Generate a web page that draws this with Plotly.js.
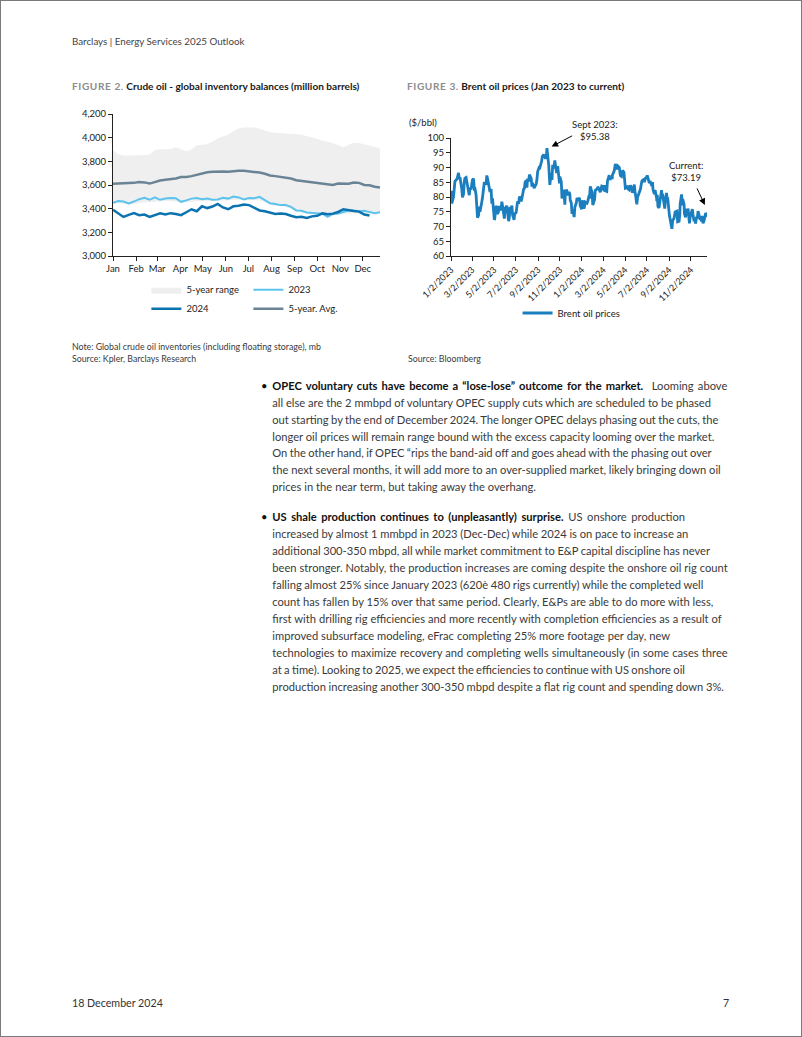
<!DOCTYPE html>
<html><head><meta charset="utf-8">
<script src="https://cdn.plot.ly/plotly-3.0.1.min.js"></script>
<style>
html,body{margin:0;padding:0;background:#fff;}
#page{position:relative;width:802px;height:1037px;overflow:hidden;font-family:Lato,sans-serif;color:#3a3a3a;background:#fff;}
#frame{position:absolute;left:0;top:0;width:802px;height:1037px;box-sizing:border-box;border:1px solid #7a7a7a;pointer-events:none;}
.t{position:absolute;white-space:nowrap;line-height:18px;}
.body b{color:#111;font-weight:700;}
.fig{font-weight:700;color:#1a1a1a;}
.fig span{color:#8c8c8c;letter-spacing:0.6px;}
.chart{position:absolute;}
</style></head>
<body>
<div id="page">
  <div class="t" id="hdr" style="left:72px;top:32px;color:#444;">Barclays | Energy Services 2025 Outlook</div>

  <div class="t fig" id="t1" style="left:72px;top:77px;"><span>FIGURE 2.</span> Crude oil - global inventory balances (million barrels)</div>
  <div class="t fig" id="t2" style="left:407px;top:77px;"><span>FIGURE 3.</span> Brent oil prices (Jan 2023 to current)</div>

  <div id="chart1" class="chart" style="left:60px;top:100px;width:340px;height:235px;"></div>
  <div id="chart2" class="chart" style="left:395px;top:100px;width:340px;height:240px;"></div>

  <div class="t note" id="n1" style="left:72px;top:338px;">Note: Global crude oil inventories (including floating storage), mb</div>
  <div class="t note" id="n2" style="left:72px;top:350px;">Source: Kpler, Barclays Research</div>
  <div class="t note" id="n3" style="left:408px;top:350px;">Source: Bloomberg</div>

  <div class="body" id="bodytext"></div>

  <div class="t" id="ftr" style="left:72px;top:994px;color:#333;">18 December 2024</div>
  <div class="t" id="pg" style="left:723px;top:994px;color:#333;">7</div>
  <div id="frame"></div>
</div>
<script>
// ---------------- Figure 2 data (weekly, million barrels) ----------------
const monthLabels = ['Jan','Feb','Mar','Apr','May','Jun','Jul','Aug','Sep','Oct','Nov','Dec'];
const monthStartDay = [0,31,59,90,120,151,181,212,243,273,304,334];

const range5yUpper = [3895,3860,3850,3850,3852,3855,3852,3858,3895,3902,3905,3905,3920,3900,3885,3900,3935,3940,3945,3965,3995,4010,4025,4055,4080,4085,4088,4085,4075,4060,4045,4042,4040,4035,4030,4028,4025,4015,4000,3990,3975,3968,3955,3935,3920,3940,3958,3955,3945,3935,3925,3910];
const range5yLower = [3440,3445,3440,3435,3440,3450,3455,3455,3460,3460,3465,3465,3460,3450,3455,3460,3465,3465,3465,3465,3465,3470,3470,3475,3475,3470,3470,3470,3470,3455,3435,3425,3420,3415,3400,3380,3370,3360,3355,3350,3345,3325,3340,3350,3355,3360,3360,3360,3360,3355,3355,3360];
const inv2023 = [3450,3465,3460,3445,3460,3480,3492,3475,3495,3475,3485,3490,3488,3458,3470,3485,3490,3480,3485,3475,3478,3492,3485,3503,3495,3478,3490,3488,3500,3470,3445,3440,3430,3430,3415,3385,3382,3368,3365,3362,3358,3330,3355,3360,3375,3385,3385,3378,3382,3372,3362,3370];
const inv2024 = [3390,3360,3330,3348,3362,3345,3350,3330,3342,3360,3350,3362,3355,3345,3370,3395,3378,3420,3405,3418,3440,3410,3395,3420,3425,3435,3430,3410,3385,3378,3365,3355,3360,3355,3340,3328,3332,3322,3335,3340,3360,3352,3358,3372,3395,3385,3380,3375,3350,3342];
const inv5yAvg = [3610,3612,3615,3612,3618,3625,3622,3612,3628,3638,3645,3650,3655,3668,3668,3675,3685,3700,3708,3712,3715,3715,3712,3718,3720,3720,3715,3712,3705,3695,3680,3675,3670,3665,3655,3640,3635,3630,3620,3615,3612,3605,3600,3612,3608,3610,3620,3618,3600,3598,3585,3578];
const weekDay = n => Array.from({length:n}, (_, i) => i * 7);

// ---------------- Figure 3 data (Brent, $/bbl) ----------------
const brentDates2023 = ['01-03','01-04','01-06','01-09','01-11','01-13','01-17','01-19','01-23','01-25','01-27','01-30','02-01','02-03','02-06','02-08','02-10','02-13','02-15','02-17','02-22','02-24','02-27','03-01','03-03','03-06','03-08','03-10','03-13','03-15','03-17','03-20','03-22','03-24','03-27','03-29','03-31','04-03','04-05','04-10','04-12','04-14','04-17','04-19','04-21','04-24','04-26','04-28','05-01','05-03','05-04','05-08','05-10','05-12','05-15','05-17','05-19','05-22','05-24','05-26','05-31','06-02','06-05','06-07','06-09','06-12','06-14','06-16','06-19','06-21','06-23','06-27','06-29','07-03','07-05','07-07','07-10','07-12','07-14','07-17','07-19','07-21','07-24','07-26','07-28','07-31','08-02','08-04','08-07','08-09','08-11','08-14','08-16','08-18','08-22','08-24','08-28','08-30','09-01','09-05','09-07','09-12','09-14','09-18','09-20','09-22','09-25','09-27','09-28','10-02','10-04','10-05','10-09','10-11','10-13','10-16','10-19','10-23','10-24','10-27','10-30','11-01','11-02','11-06','11-08','11-10','11-13','11-16','11-17','11-21','11-24','11-28','11-30','12-01','12-04','12-06','12-08','12-12','12-14','12-18','12-20','12-22','12-27','12-29'];
const brentPrices2023 = [82.1,77.8,78.6,80.0,82.7,85.3,85.9,86.2,88.2,86.1,86.7,84.9,82.8,79.9,81.0,85.1,86.4,86.6,85.4,83.0,80.6,83.2,82.5,84.3,85.8,86.2,82.7,82.8,80.8,73.7,73.0,73.8,76.7,75.0,78.1,78.3,79.8,84.9,85.0,84.2,87.3,86.3,84.8,83.1,81.7,82.7,77.7,79.5,75.3,72.3,72.5,77.0,76.4,74.2,75.2,77.0,75.6,76.0,78.4,77.0,72.7,76.1,76.7,77.0,74.8,71.8,73.2,76.6,76.1,77.1,73.9,72.3,74.3,74.7,76.7,78.5,77.7,80.1,79.9,78.5,79.5,81.1,82.7,82.9,85.0,85.6,83.2,86.2,85.3,87.6,86.8,86.2,83.5,84.8,83.0,83.4,84.4,85.9,88.6,90.0,89.9,92.1,93.7,94.4,93.5,93.3,93.3,96.6,95.4,90.7,85.8,84.1,88.2,85.8,90.9,89.7,92.4,89.8,88.1,90.5,87.5,84.6,86.9,85.2,79.5,81.4,82.5,77.4,80.6,82.5,80.6,81.7,80.9,78.9,78.0,74.3,75.8,73.2,76.6,78.0,79.7,79.1,79.7,77.0];
const brentDates2024 = ['01-02','01-03','01-05','01-08','01-10','01-12','01-17','01-19','01-22','01-24','01-26','01-29','01-31','02-02','02-05','02-07','02-09','02-13','02-15','02-16','02-20','02-23','02-27','03-01','03-05','03-07','03-08','03-12','03-14','03-18','03-19','03-21','03-25','03-27','03-28','04-02','04-04','04-05','04-09','04-12','04-16','04-17','04-19','04-22','04-25','04-29','04-30','05-01','05-03','05-07','05-09','05-10','05-14','05-17','05-21','05-23','05-28','05-30','06-03','06-04','06-06','06-10','06-12','06-14','06-18','06-20','06-24','06-25','06-28','07-01','07-03','07-05','07-09','07-11','07-16','07-18','07-19','07-23','07-25','07-29','07-30','07-31','08-02','08-05','08-07','08-09','08-12','08-14','08-15','08-19','08-21','08-23','08-26','08-28','08-29','09-03','09-05','09-06','09-10','09-12','09-16','09-19','09-24','09-26','09-30','10-02','10-03','10-07','10-08','10-10','10-14','10-15','10-18','10-22','10-24','10-25','10-28','10-29','10-31','11-04','11-06','11-08','11-11','11-13','11-15','11-18','11-20','11-22','11-25','11-27','11-29','12-02','12-03','12-06','12-09','12-11','12-13','12-16','12-17'];
const brentPrices2024 = [75.9,78.3,78.8,76.1,76.8,78.3,77.9,78.6,80.1,80.0,83.6,82.4,81.7,77.3,79.0,79.2,82.2,82.8,82.9,83.5,82.3,81.6,83.7,83.6,82.0,84.0,82.1,81.9,85.4,86.9,87.4,85.8,86.8,86.1,87.5,88.9,90.7,91.2,89.4,90.5,90.0,87.3,87.3,87.0,89.0,88.4,86.3,83.4,83.0,83.2,83.9,82.8,82.4,84.0,82.9,81.4,84.2,81.9,78.4,77.5,79.9,81.6,82.6,82.6,85.3,85.7,86.0,85.0,86.4,86.6,87.3,86.5,84.7,85.4,83.7,85.1,82.6,81.0,82.4,79.8,78.6,80.7,76.8,76.3,78.3,79.7,82.3,79.8,81.0,77.7,76.1,79.0,81.4,78.7,79.9,73.8,72.7,71.1,69.2,72.0,72.8,74.9,75.2,71.6,71.8,73.9,77.6,80.9,77.2,79.4,77.5,74.3,73.1,76.0,74.4,76.1,71.4,71.1,73.2,75.1,75.9,73.9,71.8,72.3,71.0,73.3,72.8,75.2,73.0,72.8,72.9,71.8,73.6,71.1,72.1,73.5,74.5,74.1,73.19];
const brentTickVals = ['2023-01-02','2023-03-02','2023-05-02','2023-07-02','2023-09-02','2023-11-02','2024-01-02','2024-03-02','2024-05-02','2024-07-02','2024-09-02','2024-11-02'];
const brentTickText = ['1/2/2023','3/2/2023','5/2/2023','7/2/2023','9/2/2023','11/2/2023','1/2/2024','3/2/2024','5/2/2024','7/2/2024','9/2/2024','11/2/2024'];

// ---------------- Body text ----------------
const bullet1 = [
 '<b>OPEC voluntary cuts have become a “lose-lose” outcome for the market.</b>&nbsp; Looming above',
 'all else are the 2 mmbpd of voluntary OPEC supply cuts which are scheduled to be phased',
 'out starting by the end of December 2024. The longer OPEC delays phasing out the cuts, the',
 'longer oil prices will remain range bound with the excess capacity looming over the market.',
 'On the other hand, if OPEC “rips the band-aid off and goes ahead with the phasing out over',
 'the next several months, it will add more to an over-supplied market, likely bringing down oil',
 'prices in the near term, but taking away the overhang.'];
const bullet2 = [
 '<b>US shale production continues to (unpleasantly) surprise.</b> US onshore production',
 'increased by almost 1 mmbpd in 2023 (Dec-Dec) while 2024 is on pace to increase an',
 'additional 300-350 mbpd, all while market commitment to E&amp;P capital discipline has never',
 'been stronger. Notably, the production increases are coming despite the onshore oil rig count',
 'falling almost 25% since January 2023 (620è 480 rigs currently) while the completed well',
 'count has fallen by 15% over that same period. Clearly, E&amp;Ps are able to do more with less,',
 'first with drilling rig efficiencies and more recently with completion efficiencies as a result of',
 'improved subsurface modeling, eFrac completing 25% more footage per day, new',
 'technologies to maximize recovery and completing wells simultaneously (in some cases three',
 'at a time). Looking to 2025, we expect the efficiencies to continue with US onshore oil',
 'production increasing another 300-350 mbpd despite a flat rig count and spending down 3%.'];
// right edges of each line in the reference page (for spacing)
const bullet1Ends = [727.3, 711, 718.3, 714.3, 711.7, 720.7, 536];
const bullet2Ends = [685, 688.3, 710, 727.7, 703.3, 713.3, 721.7, 670, 727.7, 685, 724];
const TEXT_LEFT = 272.3;

const bodyEl = document.getElementById('bodytext');
function addLines(lines, y0, dy) {
  const els = [];
  lines.forEach((s, i) => {
    const d = document.createElement('div');
    d.className = 't bline';
    d.style.left = TEXT_LEFT + 'px';
    d.style.top = (y0 + i * dy - 9) + 'px';
    d.innerHTML = s;
    bodyEl.appendChild(d);
    els.push(d);
  });
  const b = document.createElement('div');
  b.className = 't bullet';
  b.style.left = '261px';
  b.style.top = (y0 - 9) + 'px';
  b.style.color = '#111';
  b.innerHTML = '•';
  bodyEl.appendChild(b);
  return els;
}
const b1 = addLines(bullet1, 385.7, 16.94);
const b2 = addLines(bullet2, 516.7, 17.06);

function fitSize(els, targets, base) {
  let r = 0;
  els.forEach((el, i) => { el.style.fontSize = base + 'px'; r += targets[i] / el.getBoundingClientRect().width; });
  return base * r / els.length;
}
function setSize(els, sz) { els.forEach(e => e.style.fontSize = sz + 'px'); }
function justify(els, ends) {
  els.forEach((el, i) => {
    const target = ends[i] - TEXT_LEFT;
    const w = el.getBoundingClientRect().width;
    const spaces = (el.textContent.match(/\s/g) || []).length;
    if (spaces > 0) el.style.wordSpacing = ((target - w) / spaces) + 'px';
  });
}

const bodySize = fitSize(b1.concat(b2), bullet1Ends.concat(bullet2Ends).map(e => e - TEXT_LEFT), 12);
setSize(document.querySelectorAll('.bline, .bullet'), bodySize);
justify(b1, bullet1Ends);
justify(b2, bullet2Ends);

const hdr = document.getElementById('hdr');
setSize([hdr], fitSize([hdr], [172.5], 11));
const t1 = document.getElementById('t1'), t2 = document.getElementById('t2');
const figSize = fitSize([t1, t2], [290.7, 215.4], 10);
setSize([t1, t2], figSize);
const n1 = document.getElementById('n1');
const noteSize = fitSize([n1], [249.3], 9);
setSize(document.querySelectorAll('.note'), noteSize);
const ftr = document.getElementById('ftr'), pg = document.getElementById('pg');
const ftrSize = fitSize([ftr], [91], 11);
setSize([ftr, pg], ftrSize);

// ---------------- Charts ----------------
const FONT = 'Lato, sans-serif';
const axisCommon = {showline:true, linecolor:'#222', linewidth:1, ticks:'outside', ticklen:4, tickwidth:1, tickcolor:'#222', showgrid:false, zeroline:false, fixedrange:true, automargin:false, tickfont:{family:FONT, size:9, color:'#222'}};

const traces1 = [
  {x: weekDay(range5yLower.length), y: range5yLower, type:'scatter', mode:'lines', line:{width:0, color:'#efefef'}, showlegend:false, hoverinfo:'skip'},
  {x: weekDay(range5yUpper.length), y: range5yUpper, type:'scatter', mode:'lines', fill:'tonexty', fillcolor:'#efefef', line:{width:0, color:'#efefef'}, name:'5-year range'},
  {x: weekDay(inv2023.length), y: inv2023, type:'scatter', mode:'lines', line:{width:2, color:'#5cc3ee'}, name:'2023'},
  {x: weekDay(inv2024.length), y: inv2024, type:'scatter', mode:'lines', line:{width:2.5, color:'#0b73b0'}, name:'2024'},
  {x: weekDay(inv5yAvg.length), y: inv5yAvg, type:'scatter', mode:'lines', line:{width:2.5, color:'#6a8496'}, name:'5-year. Avg.'}
];
const layout1 = {
  width:340, height:235, margin:{l:53, r:20, t:14, b:74},
  paper_bgcolor:'rgba(0,0,0,0)', plot_bgcolor:'rgba(0,0,0,0)',
  font:{family:FONT, size:9, color:'#222'},
  xaxis: Object.assign({}, axisCommon, {range:[0,357], tickvals:monthStartDay, ticktext:monthLabels, tickfont:{family:FONT, size:9.5, color:'#222'}}),
  yaxis: Object.assign({}, axisCommon, {range:[3000,4200], dtick:200, tick0:3000, tickformat:',d', tickfont:{family:FONT, size:9.5, color:'#222'}}),
  legend:{orientation:'h', x:0.125, xanchor:'left', y:-0.135, yanchor:'top', entrywidth:57, entrywidthmode:'pixels', traceorder:'normal', font:{family:FONT, size:9.5, color:'#222'}, bgcolor:'rgba(0,0,0,0)', itemwidth:30},
  showlegend:true
};

const brentX = brentDates2023.map(d => '2023-' + d).concat(brentDates2024.map(d => '2024-' + d));
const brentY = brentPrices2023.concat(brentPrices2024);
const traces2 = [
  {x: brentX, y: brentY, type:'scatter', mode:'lines', line:{width:2.8, color:'#1b7fbf'}, name:'Brent oil prices'}
];
const annFont = {family:FONT, size:9.5, color:'#222'};
const layout2 = {
  width:340, height:240, margin:{l:56, r:28, t:38, b:80},
  paper_bgcolor:'rgba(0,0,0,0)', plot_bgcolor:'rgba(0,0,0,0)',
  font:{family:FONT, size:9, color:'#222'},
  xaxis: Object.assign({}, axisCommon, {type:'date', range:['2023-01-02','2024-12-17'], tickvals:brentTickVals, ticktext:brentTickText, tickangle:-45, tickfont:{family:FONT, size:9, color:'#222'}}),
  yaxis: Object.assign({}, axisCommon, {range:[60,100], dtick:5, tick0:60, tickfont:{family:FONT, size:9.5, color:'#222'}}),
  legend:{orientation:'h', x:0.26, xanchor:'left', y:-0.36, yanchor:'top', font:{family:FONT, size:9.5, color:'#222'}, bgcolor:'rgba(0,0,0,0)', itemwidth:30},
  showlegend:true,
  annotations:[
    {xref:'paper', yref:'paper', x:-0.11, y:1.13, text:'($/bbl)', showarrow:false, font:annFont, xanchor:'center', yanchor:'middle'},
    {xref:'paper', yref:'paper', x:0.5625, y:1.066, text:'Sept 2023:<br>$95.38', showarrow:false, font:annFont, xanchor:'center', yanchor:'middle'},
    {xref:'paper', yref:'paper', x:0.918, y:0.72, text:'Current:<br>$73.19', showarrow:false, font:annFont, xanchor:'center', yanchor:'middle'},
    {x:'2023-10-10', y:97.1, xref:'x', yref:'y', text:'', showarrow:true, ax:22, ay:-11.5, arrowhead:2, arrowsize:1.3, arrowwidth:1, arrowcolor:'#000'},
    {x:'2024-12-11', y:77.3, xref:'x', yref:'y', text:'', showarrow:true, ax:-8.5, ay:-18, arrowhead:2, arrowsize:1.3, arrowwidth:1, arrowcolor:'#000'}
  ]
};
const cfg = {staticPlot:true, displayModeBar:false};
Plotly.newPlot('chart1', traces1, layout1, cfg);
Plotly.newPlot('chart2', traces2, layout2, cfg);
</script>
</body></html>
